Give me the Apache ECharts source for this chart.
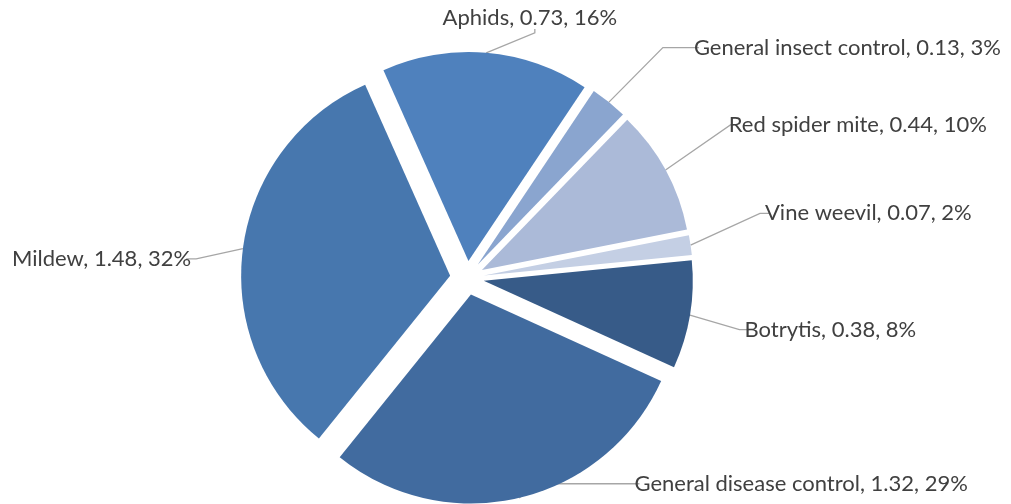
<!DOCTYPE html>
<html>
<head>
<meta charset="utf-8">
<script src="https://cdn.jsdelivr.net/npm/echarts@6/dist/echarts.min.js"></script>
<style>
  html, body { margin: 0; background: #fff; }
  #main { width: 1011px; height: 504px; }
</style>
</head>
<body>
<div id="main"></div>
<script>
const categories = ['Aphids', 'General insect control', 'Red spider mite', 'Vine weevil', 'Botrytis', 'General disease control', 'Mildew'];
const values = [0.73, 0.13, 0.44, 0.07, 0.38, 1.32, 1.48];
const colors = ['#4f81bd', '#8aa5cf', '#abbad8', '#c4cfe4', '#375b88', '#416b9f', '#4777ae'];
// label line legs for each slice: radial leg, horizontal leg
const lineLen = [28, 70, 80, 60, 40, 6, 30];
const lineLen2 = [4, 36, 3, 10, 10, 100, 10];
// small nudges of the label text from where the library puts it
const labelDx = [-60, -5, -20, -5, -5, 4, -2];
const labelDy = [-7, 0, -7, -23, 8, -20, 14];

let myChart = echarts.init(document.getElementById('main'));
myChart.setOption({
  animation: false,
  color: colors,
  series: [
    {
      type: 'pie',
      center: [467, 278],
      radius: 209,
      startAngle: 114,
      clockwise: true,
      percentPrecision: 0,
      selectedMode: 'multiple',
      selectedOffset: 17,
      avoidLabelOverlap: false,
      emphasis: { disabled: true },
      itemStyle: { borderWidth: 0 },
      label: {
        show: true,
        formatter: '{b}, {c}, {d}%',
        fontFamily: 'Lato',
        fontSize: 22,
        color: '#404040',
        padding: [0, 5]
      },
      labelLine: {
        show: true,
        lineStyle: { color: '#a6a6a6', width: 1.3 }
      },
      labelLayout: function (p) {
        const r = p.labelRect;
        const i = p.dataIndex;
        // keep the library's anchor, nudge the text; the guide line follows
        return {
          x: p.align === 'right' ? r.x + r.width : r.x,
          y: r.y + r.height / 2,
          dx: labelDx[i],
          dy: labelDy[i]
        };
      },
      data: categories.map(function (name, i) {
        return {
          name: name,
          value: values[i],
          selected: true,
          labelLine: { length: lineLen[i], length2: lineLen2[i] }
        };
      })
    }
  ]
});
</script>
</body>
</html>
